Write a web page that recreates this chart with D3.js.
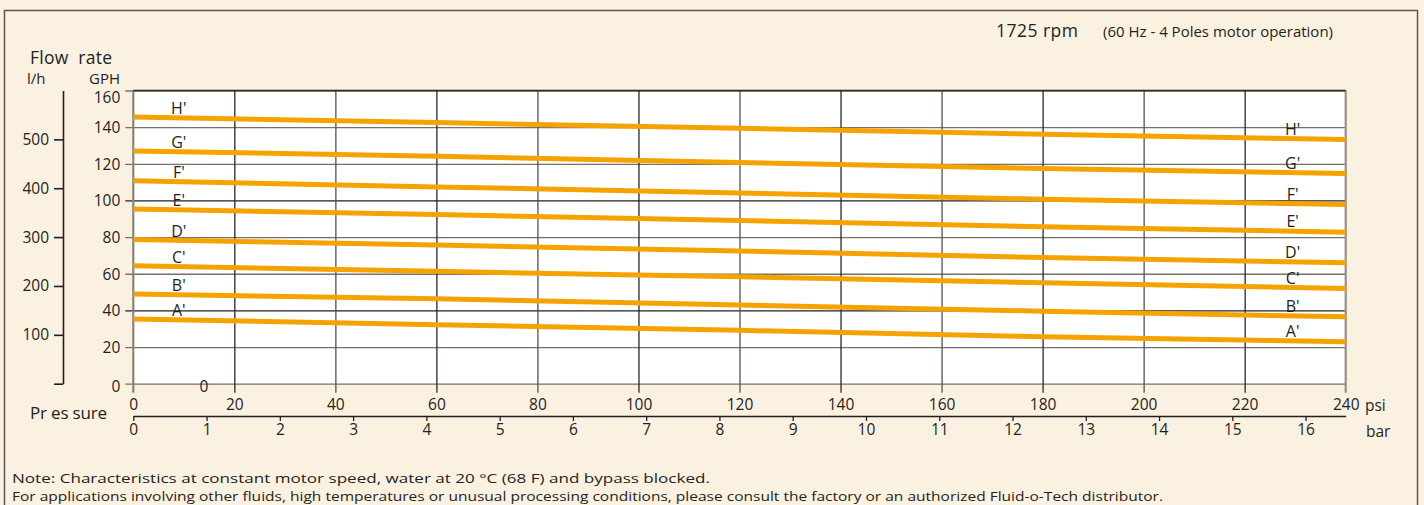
<!DOCTYPE html>
<html>
<head>
<meta charset="utf-8">
<script src="https://cdn.jsdelivr.net/npm/d3@7"></script>
<style>
  html, body { margin: 0; padding: 0; background: #fbf1e1; }
  svg { display: block; font-family: "Open Sans", sans-serif; fill: #231f20; }
</style>
</head>
<body>
<svg id="chart"></svg>
<script>
// pressure points (psi) where the curves were read
const psiPoints = [0, 60, 120, 180, 240];
const curveNames = ["A'", "B'", "C'", "D'", "E'", "F'", "G'", "H'"];
// flow in GPH for each curve at psiPoints
const flowA = [35.3, 32.2, 29.1, 25.6, 22.9];
const flowB = [48.9, 46.3, 42.9, 39.6, 36.5];
const flowC = [64.3, 61.3, 58.3, 55.1, 52.0];
const flowD = [78.7, 75.7, 72.4, 68.9, 66.0];
const flowE = [95.4, 92.3, 89.1, 85.6, 82.7];
const flowF = [110.7, 107.4, 104.1, 100.7, 97.8];
const flowG = [127.0, 124.1, 120.7, 117.4, 114.7];
const flowH = [145.6, 142.5, 139.4, 136.1, 133.3];
const gphTicks = [0, 20, 40, 60, 80, 100, 120, 140, 160];
const lhTicks = [0, 100, 200, 300, 400, 500];
const psiTicks = [0, 20, 40, 60, 80, 100, 120, 140, 160, 180, 200, 220, 240];
const barTicks = [0, 1, 2, 3, 4, 5, 6, 7, 8, 9, 10, 11, 12, 13, 14, 15, 16];

const W = 1424, H = 505;
const pLeft = 133.3, pRight = 1345.7, pTop = 90.5, pBottom = 383.7;
const orange = "#f5a300";
const numSize = 15.5;

const svg = d3.select("#chart").attr("width", W).attr("height", H);

// outer frame
svg.append("rect")
    .attr("x", 4.5).attr("y", 10.5).attr("width", 1413).attr("height", 510)
    .attr("fill", "#fbf1e1").attr("stroke", "#5e5753").attr("stroke-width", 1.5);

const x = d3.scaleLinear().domain([0, 240]).range([pLeft, pRight]);
const y = d3.scaleLinear().domain([0, 160]).range([pBottom, pTop]);
const yLh = d3.scaleLinear().domain([0, 600]).range([pBottom, pTop]);
const xBar = d3.scaleLinear().domain([0, 240 / 14.5038]).range([pLeft, pRight]);

// plot area
svg.append("rect")
    .attr("x", pLeft).attr("y", pTop)
    .attr("width", pRight - pLeft).attr("height", pBottom - pTop)
    .attr("fill", "#fff");

// horizontal grid + GPH labels
const gy = svg.append("g")
    .attr("transform", `translate(${pLeft - 8},0)`)
    .call(d3.axisLeft(y).tickValues(gphTicks).tickSize(-(pRight - pLeft + 8)).tickPadding(5));
gy.select(".domain").remove();
gy.selectAll(".tick line")
    .attr("stroke", d => (d === 100 || d === 40) ? "#231f20" : "#76706c")
    .attr("stroke-width", 1.3);
gy.selectAll(".tick text")
    .attr("font-size", numSize).attr("font-family", "Open Sans").attr("fill", "#231f20")
    .attr("dy", d => d === 160 ? "0.75em" : d === 0 ? "0.5em" : "0.34em");

// vertical grid + psi labels
const gx = svg.append("g")
    .attr("transform", `translate(0,${pBottom + 9})`)
    .call(d3.axisBottom(x).tickValues(psiTicks).tickSize(-(pBottom - pTop + 9)).tickPadding(6));
gx.select(".domain").remove();
gx.selectAll(".tick line")
    .attr("stroke", (d, i) => i % 2 ? "#2b2523" : "#57504c")
    .attr("stroke-width", 1.3);
gx.selectAll(".tick text")
    .attr("font-size", numSize).attr("font-family", "Open Sans").attr("fill", "#231f20");
gx.selectAll(".tick").filter(d => d === 0 || d === 240).select("line").attr("opacity", 0);

// plot edges
svg.append("line").attr("x1", pLeft).attr("x2", pLeft).attr("y1", pTop).attr("y2", pBottom + 9)
    .attr("stroke", "#8c827b").attr("stroke-width", 2.2);
svg.append("line").attr("x1", pRight).attr("x2", pRight).attr("y1", pTop).attr("y2", pBottom + 9)
    .attr("stroke", "#9a8f88").attr("stroke-width", 2.2);
svg.append("line").attr("x1", pLeft).attr("x2", pRight).attr("y1", pTop).attr("y2", pTop)
    .attr("stroke", "#2b2523").attr("stroke-width", 1.3);

// bar axis
const gb = svg.append("g")
    .attr("transform", "translate(0,416)")
    .call(d3.axisBottom(xBar).tickValues(barTicks).tickSize(5).tickSizeOuter(0).tickPadding(3));
gb.select(".domain").attr("stroke", "#231f20").attr("stroke-width", 1.5);
gb.selectAll(".tick line").attr("stroke", "#231f20").attr("stroke-width", 1.3);
gb.selectAll(".tick text")
    .attr("font-size", numSize).attr("font-family", "Open Sans").attr("fill", "#231f20");

// l/h axis
const gl = svg.append("g")
    .attr("transform", "translate(63,0)")
    .call(d3.axisLeft(yLh).tickValues(lhTicks).tickSize(9).tickSizeOuter(0).tickPadding(5)
        .tickFormat(d => d === 0 ? "" : d));
gl.select(".domain").attr("stroke", "#231f20").attr("stroke-width", 1.6);
gl.selectAll(".tick line").attr("stroke", "#231f20").attr("stroke-width", 1.6);
gl.selectAll(".tick text")
    .attr("font-size", numSize).attr("font-family", "Open Sans").attr("fill", "#231f20");

// curves
const flows = [flowA, flowB, flowC, flowD, flowE, flowF, flowG, flowH];
const line = d3.line().x(d => x(d[0])).y(d => y(d[1]));
const curves = flows.map((f, i) => ({ name: curveNames[i], pts: psiPoints.map((p, j) => [p, f[j]]) }));

svg.append("g").selectAll("path")
    .data(curves)
    .enter().append("path")
    .attr("d", d => line(d.pts))
    .attr("fill", "none")
    .attr("stroke", orange)
    .attr("stroke-width", 5);

function flowAt(pts, p) {
    const interp = d3.scaleLinear().domain(pts.map(d => d[0])).range(pts.map(d => d[1]));
    return interp(p);
}

const labels = svg.append("g").attr("font-size", 16).attr("fill", "#231f20");
[9, 229.5].forEach(p => {
    labels.selectAll(null)
        .data(curves)
        .enter().append("text")
        .attr("x", x(p))
        .attr("y", d => y(flowAt(d.pts, p)) - 9.5)
        .attr("dy", "0.36em")
        .attr("text-anchor", "middle")
        .text(d => d.name);
});

// texts
svg.append("text").attr("x", 30).attr("y", 64).attr("font-size", 17.5)
    .attr("textLength", 82).attr("xml:space", "preserve").text("Flow  rate");
svg.append("text").attr("x", 27).attr("y", 84).attr("font-size", 15).text("l/h");
svg.append("text").attr("x", 89).attr("y", 84).attr("font-size", 15).attr("textLength", 31).text("GPH");
svg.append("text").attr("x", 30).attr("y", 419).attr("font-size", 17)
    .attr("textLength", 77).attr("xml:space", "preserve").text("Pr es sure");
svg.append("text").attr("x", 1365).attr("y", 411).attr("font-size", numSize).text("psi");
svg.append("text").attr("x", 1366).attr("y", 437).attr("font-size", numSize).text("bar");
svg.append("text").attr("x", 204).attr("y", 392).attr("font-size", numSize).attr("text-anchor", "middle").text("0");

svg.append("text").attr("x", 996).attr("y", 37).attr("font-size", 17.5)
    .attr("textLength", 82).text("1725 rpm");
svg.append("text").attr("x", 1103).attr("y", 36.5).attr("font-size", 14)
    .attr("textLength", 230).attr("lengthAdjust", "spacingAndGlyphs")
    .text("(60 Hz - 4 Poles motor operation)");

svg.append("text").attr("x", 12).attr("y", 483).attr("font-size", 13.5)
    .attr("textLength", 698).attr("lengthAdjust", "spacingAndGlyphs")
    .text("Note: Characteristics at constant motor speed, water at 20 °C (68 F) and bypass blocked.");
svg.append("text").attr("x", 12).attr("y", 501).attr("font-size", 13.5)
    .attr("textLength", 1151).attr("lengthAdjust", "spacingAndGlyphs")
    .text("For applications involving other fluids, high temperatures or unusual processing conditions, please consult the factory or an authorized Fluid-o-Tech distributor.");
</script>
</body>
</html>
